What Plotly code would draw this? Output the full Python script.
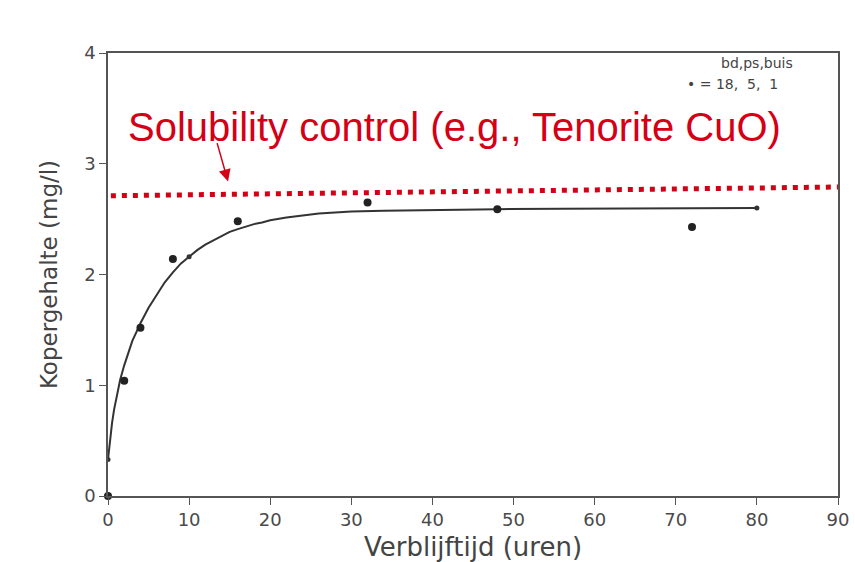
import plotly.graph_objects as go

# Measured copper concentration vs. residence time
hours = [0, 2, 4, 8, 16, 32, 48, 72]
copper = [0.0, 1.04, 1.52, 2.14, 2.48, 2.65, 2.59, 2.43]

# Fitted saturation curve
fit_x = [0, 0.25, 0.5, 0.75, 1, 1.5, 2, 2.5, 3, 3.5, 4, 5, 6, 7, 8, 9, 10, 11, 12, 13, 14, 15, 16,
         17, 18, 19, 20, 22, 24, 26, 28, 30, 34, 38, 42, 48, 56, 64, 72, 80]
fit_y = [0.33, 0.52, 0.66, 0.78, 0.88, 1.05, 1.18, 1.30, 1.40, 1.48, 1.56, 1.70, 1.82, 1.93, 2.02,
         2.10, 2.16, 2.22, 2.27, 2.31, 2.35, 2.385, 2.41, 2.435, 2.455, 2.47, 2.49, 2.515, 2.535,
         2.55, 2.56, 2.568, 2.576, 2.581, 2.585, 2.59, 2.593, 2.596, 2.598, 2.60]
node_x = [0, 10, 80]
node_y = [0.33, 2.16, 2.60]

# Solubility limit line
limit_x = [-1, 90]
limit_y = [2.71, 2.79]

x_ticks = [0, 10, 20, 30, 40, 50, 60, 70, 80, 90]
y_ticks = [0, 1, 2, 3, 4]

axis_color = "#555555"
red = "#d40016"
tick_font = dict(family="DejaVu Sans", size=18, color="#4a4a4a")

fig = go.Figure()

fig.add_trace(go.Scatter(
    x=limit_x, y=limit_y, mode="lines",
    line=dict(color=red, width=5, dash="5px,6px"),
    hoverinfo="skip", showlegend=False, cliponaxis=False,
))

fig.add_trace(go.Scatter(
    x=fit_x, y=fit_y, mode="lines",
    line=dict(color="#333333", width=2),
    showlegend=False,
))

fig.add_trace(go.Scatter(
    x=node_x, y=node_y, mode="markers",
    marker=dict(color="#333333", size=5),
    showlegend=False,
))

fig.add_trace(go.Scatter(
    x=hours, y=copper, mode="markers",
    marker=dict(color="#222222", size=8),
    showlegend=False, cliponaxis=False,
))

fig.add_annotation(
    x=0.024, xref="paper", y=3.33, yref="y",
    text="Solubility control (e.g., Tenorite CuO)",
    showarrow=False, xanchor="left", yanchor="middle",
    font=dict(family="Liberation Sans", size=40, color=red),
)

fig.add_annotation(
    x=14.8, y=2.84, ax=13.4, ay=3.2, xref="x", yref="y", axref="x", ayref="y",
    text="", showarrow=True, arrowhead=2, arrowsize=1.6, arrowwidth=1.5, arrowcolor=red,
)

fig.add_annotation(
    x=0.941, xref="paper", y=0.977, yref="paper",
    text="bd,ps,buis", showarrow=False, xanchor="right", yanchor="middle",
    font=dict(family="DejaVu Sans", size=14, color="#444444"),
)
fig.add_annotation(
    x=0.92, xref="paper", y=0.93, yref="paper",
    text="\u2022 = 18,  5,  1", showarrow=False,
    xanchor="right", yanchor="middle",
    font=dict(family="DejaVu Sans", size=14, color="#444444"),
)

fig.update_xaxes(
    range=[0, 90], tickvals=x_ticks, ticks="outside", ticklen=7, tickcolor=axis_color,
    showline=True, linecolor=axis_color, linewidth=1.5, mirror=True, showgrid=False,
    zeroline=False, tickfont=tick_font, automargin=False,
    title=dict(text="Verblijftijd (uren)", font=dict(family="DejaVu Sans", size=26, color="#444444"),
               standoff=8),
)
fig.update_yaxes(
    range=[0, 4], tickvals=y_ticks, ticks="outside", ticklen=7, tickcolor=axis_color,
    showline=True, linecolor=axis_color, linewidth=1.5, mirror=True, showgrid=False,
    zeroline=False, tickfont=tick_font, automargin=False,
    title=dict(text="Kopergehalte (mg/l)", font=dict(family="DejaVu Sans", size=23, color="#444444"),
               standoff=20),
)

fig.update_layout(
    width=855, height=562,
    margin=dict(l=108, r=17, t=53, b=66),
    paper_bgcolor="white", plot_bgcolor="white",
)

fig.write_html("out.html")
